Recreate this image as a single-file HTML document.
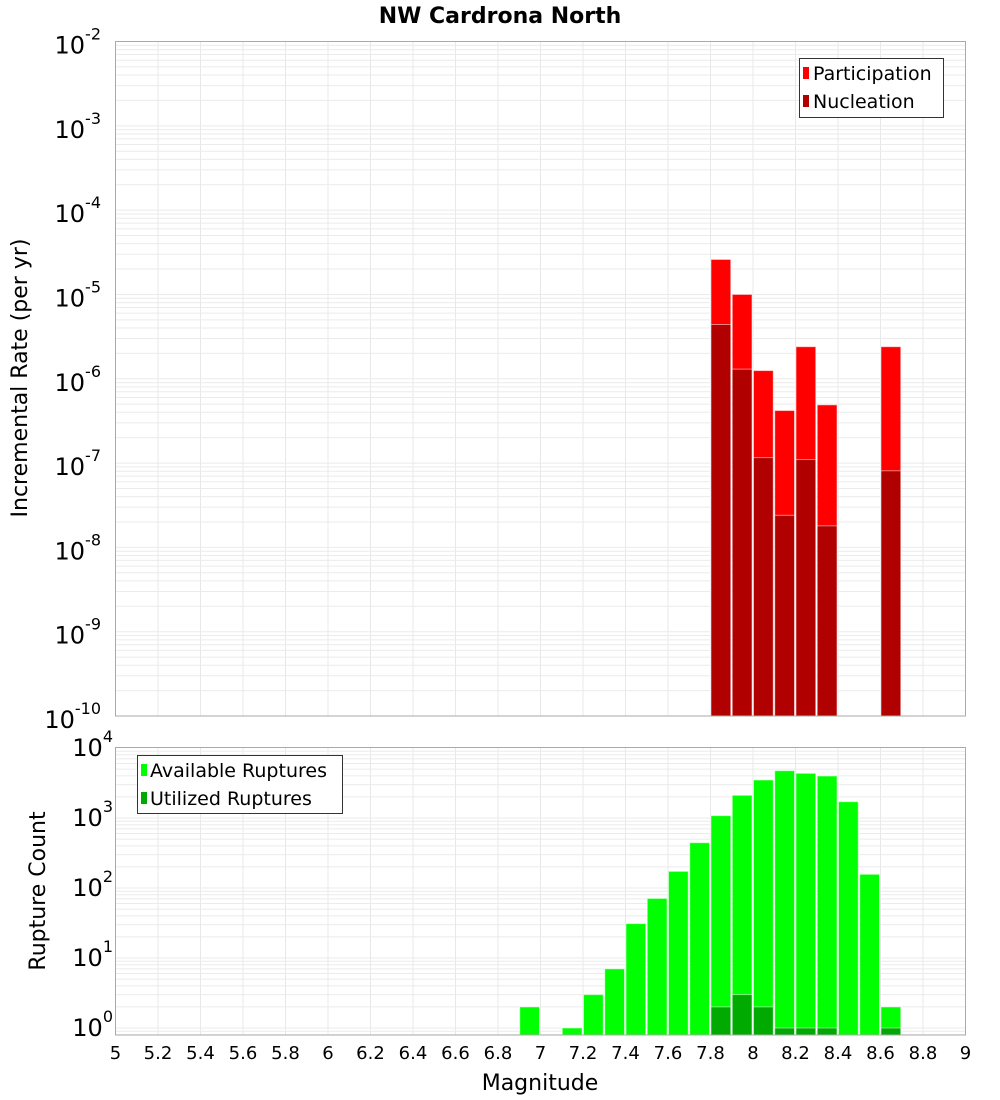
<!DOCTYPE html>
<html><head><meta charset="utf-8"><style>
html,body{margin:0;padding:0;background:#fff;}
svg{display:block;font-family:"DejaVu Sans","Liberation Sans",sans-serif;}
</style></head><body>
<svg id="c" width="1000" height="1100" viewBox="0 0 1000 1100" xmlns="http://www.w3.org/2000/svg">
<text x="500" y="23" text-anchor="middle" font-size="22" font-weight="bold">NW Cardrona North</text>
<g id="top"></g>
<g id="bot"></g>
<text transform="translate(27,378) rotate(-90)" text-anchor="middle" font-size="22">Incremental Rate (per yr)</text>
<text transform="translate(45,891) rotate(-90)" text-anchor="middle" font-size="22">Rupture Count</text>
<text x="540" y="1090" text-anchor="middle" font-size="22">Magnitude</text>
<g>
<rect x="799.5" y="58.5" width="144" height="59" fill="#fff" stroke="#333"/>
<rect x="803" y="67" width="6" height="12" fill="#ff0000"/>
<text x="813" y="80" font-size="19">Participation</text>
<rect x="803" y="95" width="6" height="12" fill="#b00000"/>
<text x="813" y="108" font-size="19">Nucleation</text>
</g>
<g>
<rect x="137.5" y="755.5" width="205" height="58" fill="#fff" stroke="#333"/>
<rect x="141" y="764" width="6" height="12" fill="#00ff00"/>
<text x="150" y="777" font-size="19">Available Ruptures</text>
<rect x="141" y="792" width="6" height="12" fill="#00aa00"/>
<text x="150" y="805" font-size="19">Utilized Ruptures</text>
</g>
</svg>
<script>
const rateMags = [7.85, 7.95, 8.05, 8.15, 8.25, 8.35, 8.65];
const participation = [2.6e-5, 1.0e-5, 1.25e-6, 4.2e-7, 2.4e-6, 4.9e-7, 2.4e-6];
const nucleation = [4.4e-6, 1.3e-6, 1.16e-7, 2.4e-8, 1.1e-7, 1.8e-8, 8.1e-8];
const countMags = [6.95, 7.15, 7.25, 7.35, 7.45, 7.55, 7.65, 7.75, 7.85, 7.95, 8.05, 8.15, 8.25, 8.35, 8.45, 8.55, 8.65];
const available = [2, 1, 3, 7, 31, 71, 173, 444, 1080, 2110, 3490, 4740, 4350, 3980, 1710, 157, 2];
const utilMags = [7.85, 7.95, 8.05, 8.15, 8.25, 8.35, 8.65];
const utilized = [2, 3, 2, 1, 1, 1, 1];
const xTicks = ["5","5.2","5.4","5.6","5.8","6","6.2","6.4","6.6","6.8","7","7.2","7.4","7.6","7.8","8","8.2","8.4","8.6","8.8","9"];
const topExps = [-2,-3,-4,-5,-6,-7,-8,-9,-10];
const botExps = [4,3,2,1,0];

const NS = "http://www.w3.org/2000/svg";
const X0 = 115.5, X1 = 965.5;
const xs = m => X0 + (m - 5) / 4 * (X1 - X0);
const T0 = 41.5, T1 = 716;
const yTop = v => T0 + (-2 - Math.log10(v)) * (T1 - T0) / 8;
const B0 = 747.5, B1 = 1035;
const yBot = v => 1028 - 70 * Math.log10(v);
const BW = (X1 - X0) / 40;

function mk(parent, tag, attrs) {
  const e = document.createElementNS(NS, tag);
  for (const k in attrs) e.setAttribute(k, attrs[k]);
  parent.appendChild(e);
  return e;
}
function frame(g, y0, y1, gridYs) {
  const r = mk(g, "rect", {x: X0, y: y0, width: X1 - X0, height: y1 - y0, fill: "#fff"});
  
  
  for (let i = 1; i < xTicks.length - 1; i++) {
    const x = xs(5 + i * 0.2);
    const l = mk(g, "line", {x1: x, x2: x, y1: y0, y2: y1, stroke: "#e8e8e8", "stroke-width": 1});
    
    
  }
  gridYs.forEach(y => {
    if (y <= y0 || y >= y1) return;
    const l = mk(g, "line", {x1: X0, x2: X1, y1: y, y2: y, stroke: "#ebebeb", "stroke-width": 1});
    
    
  });
}
function border(g, y0, y1) {
  const r = mk(g, "rect", {x: X0, y: y0, width: X1 - X0, height: y1 - y0, fill: "none", stroke: "#aaa"});
  
  
}
function bar(g, m, v, yf, base, color, name) {
  const x = xs(m - 0.05), y = yf(v);
  const r = mk(g, "rect", {x: x + 0.5, y: y, width: BW - 1.5, height: base - y, fill: color, stroke: "rgba(255,255,255,0.5)", "stroke-width": 1});
  
  
}
function ylabel(g, x, y, exp, name) {
  const t = mk(g, "text", {x: x, y: y, "font-size": 24, "text-anchor": "end"});
  
  
  t.appendChild(document.createTextNode("10"));
  const s = mk(t, "tspan", {dy: -14, "font-size": 16});
  s.textContent = String(exp);
}

// top plot
const gt = document.getElementById("top");
let tg = [];
for (let e = -10; e < -2; e++) for (let k = 1; k <= 9; k++) tg.push(yTop(k * Math.pow(10, e)));
frame(gt, T0, T1, tg);
rateMags.forEach((m, i) => bar(gt, m, participation[i], yTop, T1, "#ff0000", "bar-participation"));
rateMags.forEach((m, i) => bar(gt, m, nucleation[i], yTop, T1, "#b00000", "bar-nucleation"));
border(gt, T0, T1);
topExps.forEach(e => ylabel(gt, 101, yTop(Math.pow(10, e)) + 12, e, "top-y-tick-label"));

// bottom plot
const gb = document.getElementById("bot");
let bg = [];
for (let e = -1; e < 4; e++) for (let k = 1; k <= 9; k++) bg.push(yBot(k * Math.pow(10, e)));
frame(gb, B0, B1, bg);
countMags.forEach((m, i) => bar(gb, m, available[i], yBot, B1, "#00ff00", "bar-available"));
utilMags.forEach((m, i) => bar(gb, m, utilized[i], yBot, B1, "#00aa00", "bar-utilized"));
border(gb, B0, B1);
botExps.forEach(e => ylabel(gb, 113, yBot(Math.pow(10, e)) + 8, e, "bottom-y-tick-label"));
xTicks.forEach((t, i) => {
  const el = mk(gb, "text", {x: xs(5 + i * 0.2), y: 1059, "font-size": 18, "text-anchor": "middle"});
  
  
  el.textContent = t;
});
</script>
</body></html>
